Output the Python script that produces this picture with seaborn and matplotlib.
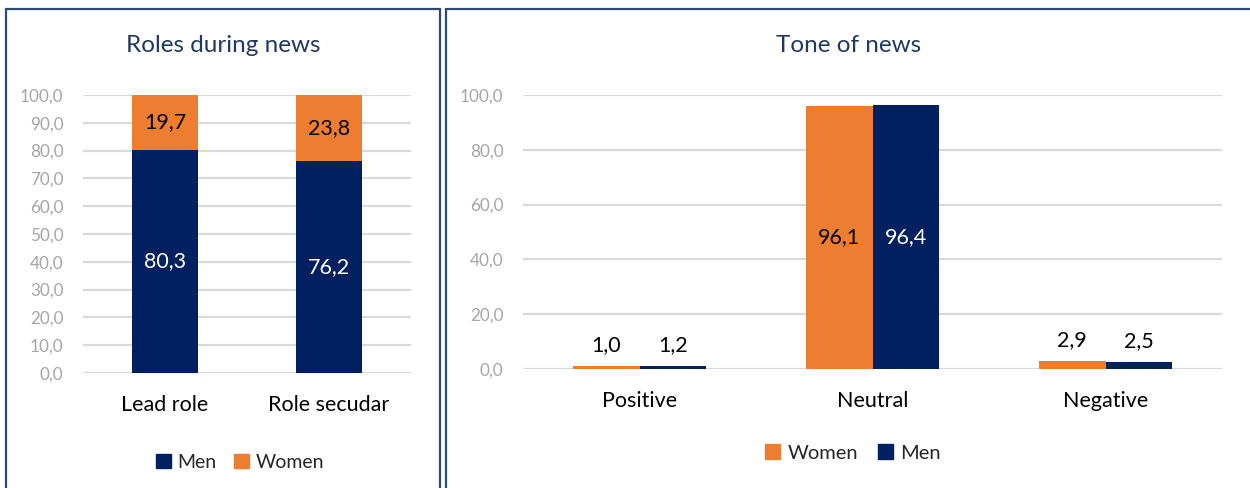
import matplotlib
matplotlib.use("Agg")
import matplotlib.pyplot as plt
from matplotlib.patches import Patch, Rectangle
import pandas as pd
import seaborn as sns

# Roles during news (stacked shares, %)
role_categories = ["Lead role", "Role secudar"]
role_men = [80.3, 76.2]
role_women = [19.7, 23.8]

# Tone of news (%)
tone_categories = ["Positive", "Neutral", "Negative"]
tone_women = [1.0, 96.1, 2.9]
tone_men = [1.2, 96.4, 2.5]

ORANGE = "#ED7D31"
NAVY = "#002060"
GRID = "#D9D9D9"
TICK = "#A6A6A6"
TITLE = "#1F3864"
FRAME = "#2F4B73"
FONT = ["Lato", "DejaVu Sans"]

sns.set_theme(style="white")
plt.rcParams["font.family"] = FONT

TICK_FS = 12.3
CAT_FS = 15.5
VAL_FS = 15.5
TITLE_FS = 17.5
LEG_FS = 14


def fmt(v):
    return f"{v:.1f}".replace(".", ",")


def style_axes(ax, step):
    ax.set_ylim(0, 100)
    ax.set_yticks(range(0, 101, step))
    ax.set_yticklabels([fmt(t) for t in range(0, 101, step)], color=TICK, fontsize=TICK_FS)
    ax.yaxis.grid(True, color=GRID, linewidth=1.6)
    ax.set_axisbelow(True)
    for s in ax.spines.values():
        s.set_visible(False)
    ax.tick_params(axis="both", length=0)
    ax.tick_params(axis="y", pad=14)
    ax.tick_params(axis="x", pad=16, labelsize=CAT_FS, labelcolor="black")
    ax.set_xlabel("")
    ax.set_ylabel("")


fig = plt.figure(figsize=(12.5, 4.88), dpi=100)

# Panel frames
fig.add_artist(Rectangle((6 / 1250, -0.05), 434 / 1250, 1.05 - 9 / 488,
                         transform=fig.transFigure, fill=False,
                         edgecolor=FRAME, linewidth=1.6))
fig.add_artist(Rectangle((446 / 1250, -0.05), 0.7, 1.05 - 9 / 488,
                         transform=fig.transFigure, fill=False,
                         edgecolor=FRAME, linewidth=1.6))

# ---- Left: stacked bars
ax1 = fig.add_axes([83 / 1250, 1 - 373 / 488, 328 / 1250, 278 / 488])
roles = pd.DataFrame({
    "category": role_categories,
    "men": role_men,
    "total": [m + w for m, w in zip(role_men, role_women)],
})
sns.barplot(data=roles, x="category", y="total", color=ORANGE, saturation=1,
            width=0.4, linewidth=0, ax=ax1)
sns.barplot(data=roles, x="category", y="men", color=NAVY, saturation=1,
            width=0.4, linewidth=0, ax=ax1)
ax1.set_xlim(-0.5, 1.5)
style_axes(ax1, 10)
for i, (m, w) in enumerate(zip(role_men, role_women)):
    ax1.text(i, m / 2, fmt(m), ha="center", va="center", color="white", fontsize=VAL_FS)
    ax1.text(i, m + w / 2, fmt(w), ha="center", va="center", color="black", fontsize=VAL_FS)

fig.text(223 / 1250, 1 - 46 / 488, "Roles during news", ha="center", va="center",
         color=TITLE, fontsize=TITLE_FS)
fig.legend(handles=[Patch(color=NAVY, label="Men"), Patch(color=ORANGE, label="Women")],
           loc="center", bbox_to_anchor=(240 / 1250, 1 - 462 / 488), ncol=2,
           frameon=False, fontsize=LEG_FS, handlelength=0.75, handleheight=0.75,
           handletextpad=0.35, columnspacing=0.9)

# ---- Right: grouped bars
ax2 = fig.add_axes([523 / 1250, 1 - 369 / 488, 699 / 1250, 274 / 488])
tone = pd.DataFrame({
    "category": tone_categories * 2,
    "gender": ["Women"] * 3 + ["Men"] * 3,
    "value": tone_women + tone_men,
})
sns.barplot(data=tone, x="category", y="value", hue="gender",
            hue_order=["Women", "Men"], palette={"Women": ORANGE, "Men": NAVY},
            saturation=1, width=0.575, linewidth=0, ax=ax2, legend=False)
ax2.set_xlim(-0.5, 2.5)
style_axes(ax2, 20)
for container, vals, col in zip(ax2.containers, [tone_women, tone_men], ["black", "white"]):
    for p, v in zip(container.patches, vals):
        x = p.get_x() + p.get_width() / 2
        if v > 20:
            ax2.text(x, v / 2, fmt(v), ha="center", va="center", color=col, fontsize=VAL_FS)
        else:
            ax2.annotate(fmt(v), (x, v), xytext=(0, 8), textcoords="offset points",
                         ha="center", va="bottom", color="black", fontsize=VAL_FS)

fig.text(849 / 1250, 1 - 46 / 488, "Tone of news", ha="center", va="center",
         color=TITLE, fontsize=TITLE_FS)
fig.legend(handles=[Patch(color=ORANGE, label="Women"), Patch(color=NAVY, label="Men")],
           loc="center", bbox_to_anchor=(853 / 1250, 1 - 453 / 488), ncol=2,
           frameon=False, fontsize=14.5, handlelength=0.75, handleheight=0.75,
           handletextpad=0.35, columnspacing=1.0)

fig.savefig("out.png", dpi=100, facecolor="white")
